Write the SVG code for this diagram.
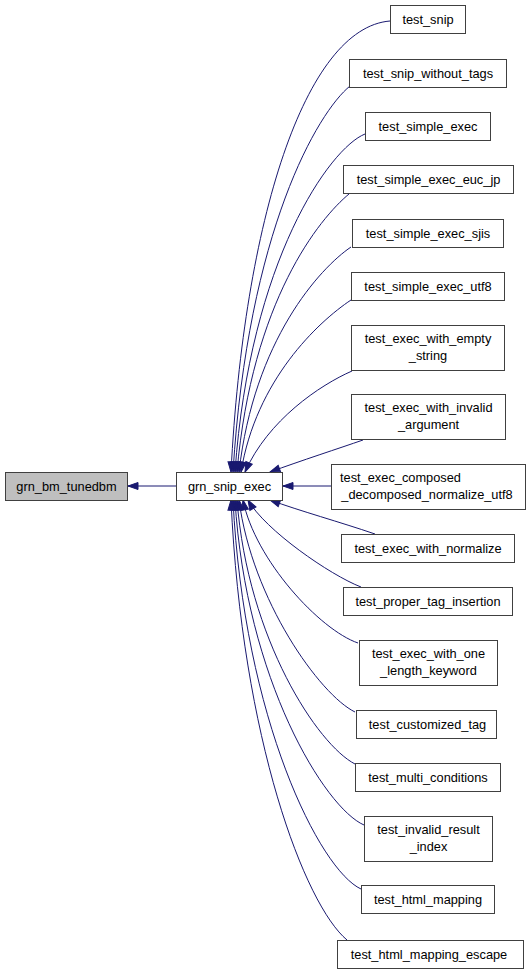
<svg xmlns="http://www.w3.org/2000/svg" width="531" height="973" viewBox="0 0 531 973">
<style>
.n rect{fill:#ffffff;stroke:#404040;stroke-width:1}
.n.g rect{fill:#bfbfbf}
text{font-family:"Liberation Sans",Arial,Helvetica,sans-serif;font-size:12.8px;fill:#000000;text-anchor:middle}
.e path{fill:none;stroke:#191970;stroke-width:1;marker-end:url(#ah)}
</style>
<defs>
<marker id="ah" markerUnits="userSpaceOnUse" markerWidth="12" markerHeight="10" viewBox="0 0 12 10" refX="11" refY="5" orient="auto">
<path d="M1,1.5 L11,5 L1,8.5 Z" fill="#191970" stroke="#191970" stroke-width="1"/>
</marker>
</defs>
<rect width="531" height="973" fill="#ffffff"/>
<g id="edges" class="e">
<path d="M176,486 L128,486"/>
<path d="M390,21 C305,28 244,220 231,472"/>
<path d="M350,86 C318,112 248,230 233,472"/>
<path d="M365,134 C330,148 250,260 235,472"/>
<path d="M349,194 C320,218 252,300 237,472"/>
<path d="M351,247 C320,268 254,340 239,472"/>
<path d="M351,300 C318,322 256,380 241,472"/>
<path d="M352,371 C320,385 268,420 245,472"/>
<path d="M363,440 C340,448 300,461 270,472"/>
<path d="M331,486 L283,486"/>
<path d="M375,534 C340,522 300,511 270,500"/>
<path d="M361,587 C330,575 265,530 248,500"/>
<path d="M358,643 C320,630 255,560 243,500"/>
<path d="M355,712 C320,695 252,600 239,500"/>
<path d="M355,764 C318,745 248,640 237,500"/>
<path d="M364,825 C325,808 246,680 235,500"/>
<path d="M361,889 C320,870 244,720 233,500"/>
<path d="M347,940 C305,905 242,740 231,500"/>
</g>
<g id="grn_bm_tunedbm" class="n g"><rect x="5.5" y="472.5" width="122" height="28"/><text x="66.5" y="490.5">grn_bm_tunedbm</text></g>
<g id="grn_snip_exec" class="n"><rect x="176.5" y="472.5" width="106" height="28"/><text x="229.5" y="490.5">grn_snip_exec</text></g>
<g id="test_snip" class="n"><rect x="390.5" y="5.5" width="75" height="28"/><text x="428" y="23.5">test_snip</text></g>
<g id="test_snip_without_tags" class="n"><rect x="349.5" y="59.5" width="157" height="28"/><text x="428" y="77.5">test_snip_without_tags</text></g>
<g id="test_simple_exec" class="n"><rect x="365.5" y="112.5" width="125" height="28"/><text x="428" y="130.5">test_simple_exec</text></g>
<g id="test_simple_exec_euc_jp" class="n"><rect x="343.5" y="165.5" width="170" height="28"/><text x="428.5" y="183.5">test_simple_exec_euc_jp</text></g>
<g id="test_simple_exec_sjis" class="n"><rect x="352.5" y="219.5" width="151" height="28"/><text x="428" y="237.5">test_simple_exec_sjis</text></g>
<g id="test_simple_exec_utf8" class="n"><rect x="351.5" y="272.5" width="153" height="28"/><text x="428" y="290.5">test_simple_exec_utf8</text></g>
<g id="test_exec_with_empty_string" class="n"><rect x="351.5" y="325.5" width="153" height="45"/><text x="428" y="343">test_exec_with_empty</text><text x="428" y="360">_string</text></g>
<g id="test_exec_with_invalid_argument" class="n"><rect x="351.5" y="394.5" width="154" height="45"/><text x="428.5" y="412">test_exec_with_invalid</text><text x="428.5" y="429">_argument</text></g>
<g id="test_exec_composed_decomposed_normalize_utf8" class="n"><rect x="331.5" y="464.5" width="194" height="45"/><text x="340" y="482" style="text-anchor:start">test_exec_composed</text><text x="427" y="499">_decomposed_normalize_utf8</text></g>
<g id="test_exec_with_normalize" class="n"><rect x="341.5" y="534.5" width="173" height="28"/><text x="428" y="552.5">test_exec_with_normalize</text></g>
<g id="test_proper_tag_insertion" class="n"><rect x="343.5" y="587.5" width="169" height="28"/><text x="428" y="605.5">test_proper_tag_insertion</text></g>
<g id="test_exec_with_one_length_keyword" class="n"><rect x="359.5" y="640.5" width="138" height="45"/><text x="428.5" y="658">test_exec_with_one</text><text x="428.5" y="675">_length_keyword</text></g>
<g id="test_customized_tag" class="n"><rect x="356.5" y="710.5" width="140" height="28"/><text x="427.5" y="728.5">test_customized_tag</text></g>
<g id="test_multi_conditions" class="n"><rect x="355.5" y="763.5" width="145" height="28"/><text x="428" y="781.5">test_multi_conditions</text></g>
<g id="test_invalid_result_index" class="n"><rect x="364.5" y="816.5" width="128" height="45"/><text x="428.5" y="834">test_invalid_result</text><text x="428.5" y="851">_index</text></g>
<g id="test_html_mapping" class="n"><rect x="361.5" y="885.5" width="133" height="28"/><text x="428" y="903.5">test_html_mapping</text></g>
<g id="test_html_mapping_escape" class="n"><rect x="337.5" y="940.5" width="186" height="28"/><text x="429" y="958.5">test_html_mapping_escape</text></g>
</svg>
